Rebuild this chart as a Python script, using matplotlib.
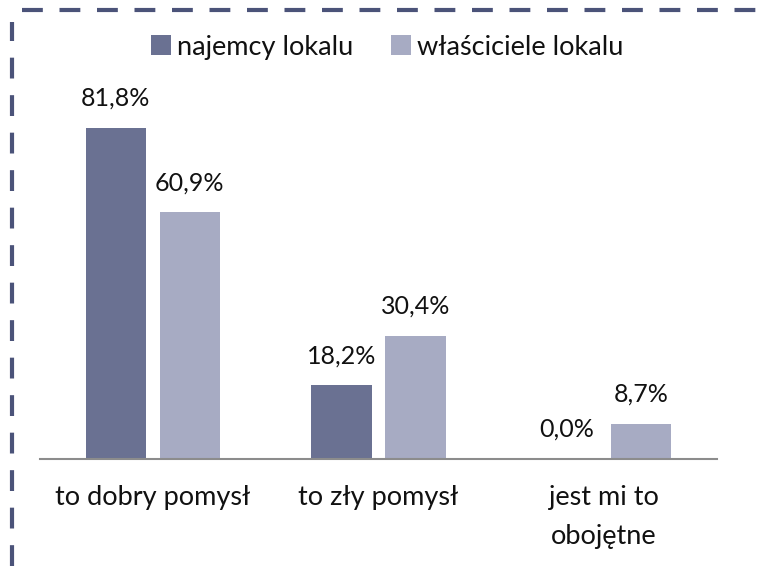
import matplotlib.pyplot as plt
from matplotlib.lines import Line2D
import numpy as np

plt.rcParams['font.family'] = ['Lato', 'DejaVu Sans']

categories = ['to dobry pomysł', 'to zły pomysł', 'jest mi to\nobojętne']
najemcy = [81.8, 18.2, 0.0]
wlasciciele = [60.9, 30.4, 8.7]
series_names = ['najemcy lokalu', 'właściciele lokalu']

dark = '#6a7192'
light = '#a7abc3'
border = '#4b5379'

W, H = 758, 566
fig = plt.figure(figsize=(W / 100, H / 100), dpi=100)

# axes placed in pixel terms: x 40..717, baseline at y=459, top at y=54
ax = fig.add_axes([40 / W, (H - 459) / H, 677 / W, 405 / H])
x = np.arange(len(categories))
off, bw = 0.164, 0.266
b1 = ax.bar(x - off, najemcy, bw, color=dark, label=series_names[0])
b2 = ax.bar(x + off, wlasciciele, bw, color=light, label=series_names[1])

for bars, vals in [(b1, najemcy), (b2, wlasciciele)]:
    for r, v in zip(bars, vals):
        ax.annotate(f'{v:.1f}%'.replace('.', ','),
                    (r.get_x() + r.get_width() / 2, v),
                    xytext=(0, 13), textcoords='offset points',
                    ha='center', va='bottom', fontsize=18, color='#111111')

ax.set_xlim(-0.5, 2.5)
ax.set_ylim(0, 100)
ax.set_xticks(x)
ax.set_xticklabels(categories, fontsize=19.5, color='#111111', linespacing=1.7)
ax.tick_params(axis='x', length=0, pad=19)
ax.set_yticks([])
for s in ['top', 'right', 'left']:
    ax.spines[s].set_visible(False)
ax.spines['bottom'].set_color('#8c8c8c')
ax.spines['bottom'].set_linewidth(1.5)

leg = fig.legend(handles=[b1, b2], loc='center', bbox_to_anchor=(387 / W, 1 - 47 / H),
                 ncol=2, frameon=False, fontsize=19.5, handlelength=0.75, handleheight=0.75,
                 handletextpad=0.2, columnspacing=1.4)
for t in leg.get_texts():
    t.set_color('#111111')

# dashed frame on left and top
fig.add_artist(Line2D([12 / W, 12 / W], [0, 1 - 22 / H], transform=fig.transFigure,
                      color=border, lw=3, dashes=(5, 4)))
fig.add_artist(Line2D([22 / W, 1], [1 - 10 / H, 1 - 10 / H], transform=fig.transFigure,
                      color=border, lw=3, dashes=(5, 4)))

fig.savefig('out.png', dpi=100)
